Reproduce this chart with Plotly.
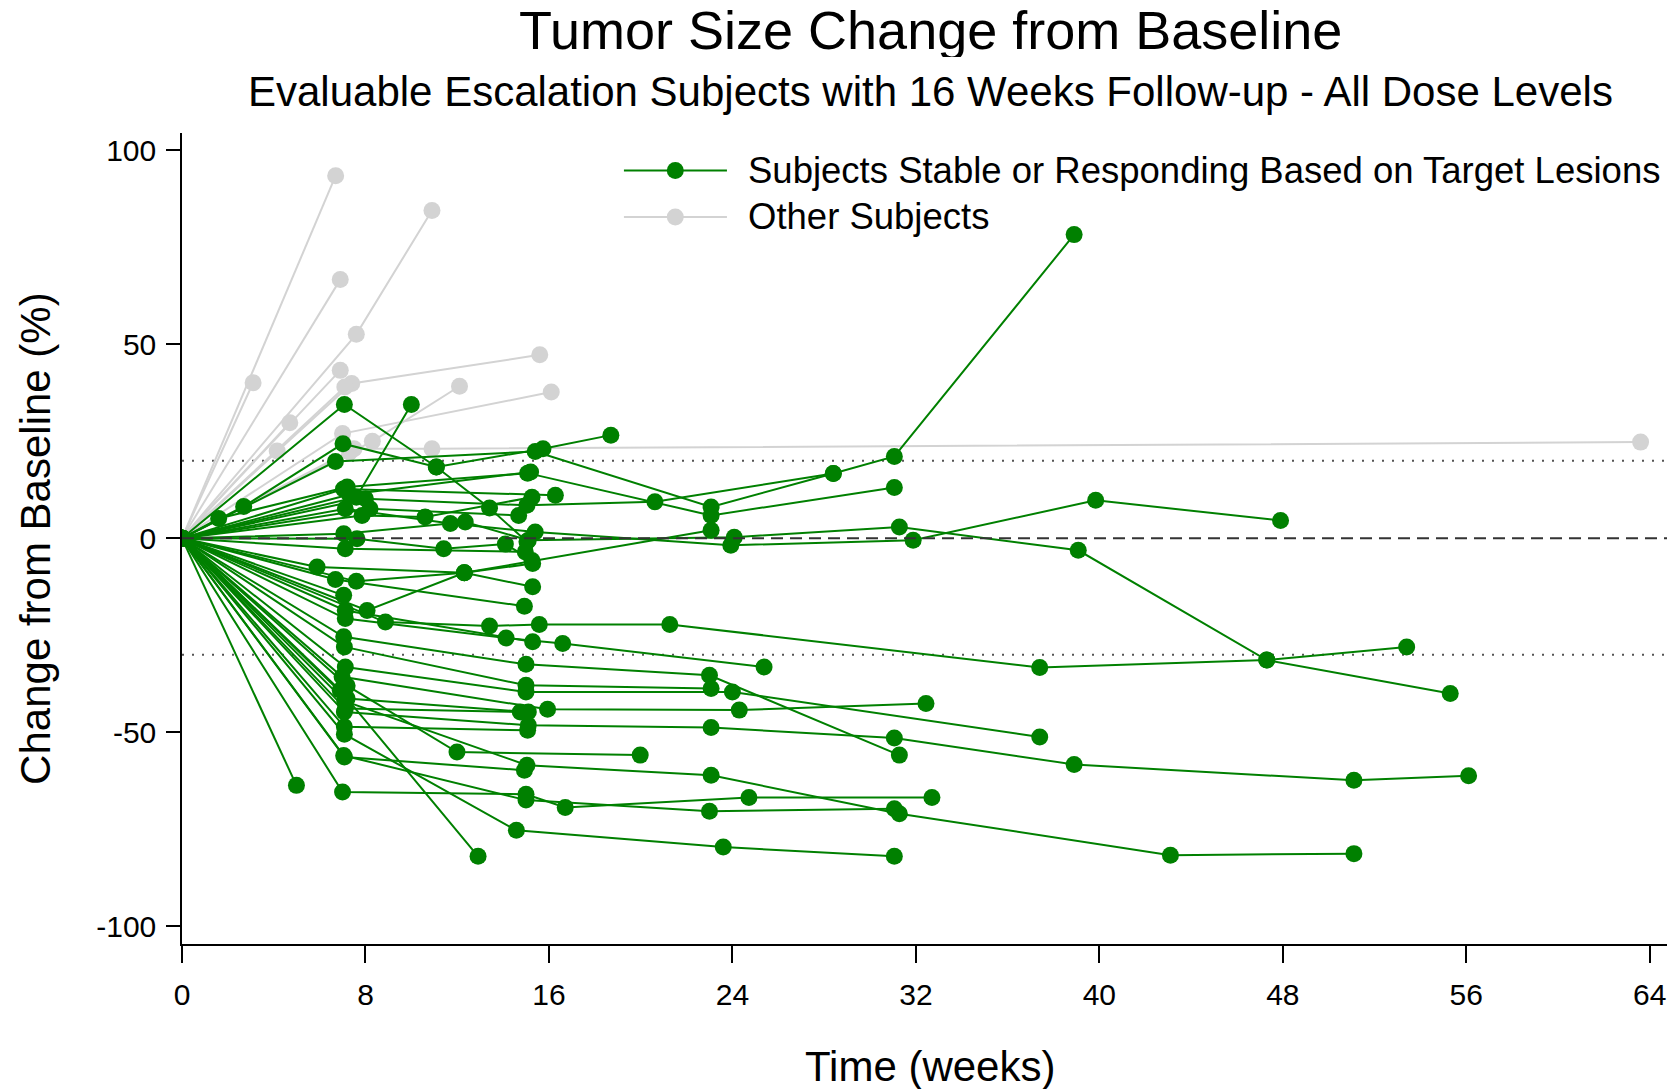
import plotly.graph_objects as go

# ---------------- data ----------------
gray_weeks = [
    [0, 3.1], [0, 6.7], [0, 6.9], [0, 7.6, 10.9], [0, 4.7], [0, 6.9],
    [0, 7.4, 15.6], [0, 7.1], [0, 8.3, 12.1], [0, 7.0, 16.1],
    [0, 7.5, 10.9, 63.6], [0, 4.15], [0, 7.3],
]
gray_values = [
    [0, 40.1], [0, 93.5], [0, 66.7], [0, 52.6, 84.5], [0, 29.8], [0, 43.3],
    [0, 39.9, 47.3], [0, 39.0], [0, 25.0, 39.2], [0, 27.0, 37.7],
    [0, 23.1, 23.1, 24.8], [0, 22.5], [0, 22.2],
]

green_weeks = [
    [0, 7.08, 11.09, 13.41, 15.04],
    [0, 2.69, 7.02, 11.09, 15.74, 18.7],
    [0, 6.69, 15.4, 23.07, 28.4],
    [0, 1.6, 7.2, 15.07, 23.07, 31.06],
    [0, 7.6, 10.0],
    [0, 8.0, 15.04, 20.62, 28.4, 31.06, 38.9],
    [0, 7.04, 16.28],
    [0, 8.2, 14.68],
    [0, 7.85, 10.6, 15.26],
    [0, 7.12, 11.7, 15.4, 23.93, 31.88, 39.84, 47.9],
    [0, 7.05, 12.35, 15.1, 24.08, 31.28, 39.08, 47.3, 55.3],
    [0, 7.63, 11.41, 14.1, 15.26],
    [0, 7.12, 14.97],
    [0, 5.89, 12.31, 15.29],
    [0, 7.6, 12.31, 15.29],
    [0, 8.07, 12.31, 23.07],
    [0, 6.69, 14.93],
    [0, 8.87, 13.41, 15.58, 21.27, 37.4, 47.3, 53.4],
    [0, 7.12, 14.13, 16.6, 25.38],
    [0, 7.12, 15.29],
    [0, 7.05, 15.0, 23.0, 31.28],
    [0, 7.08, 15.0, 23.07],
    [0, 7.12, 15.0, 24.0, 37.4],
    [0, 6.98, 15.94, 24.3, 32.44],
    [0, 6.9, 12.91],
    [0, 7.2, 15.1],
    [0, 7.12, 14.75],
    [0, 7.08, 15.1, 23.07, 31.06, 38.9, 51.1, 56.1],
    [0, 7.08, 15.07],
    [0, 7.08, 14.58, 23.6, 31.06],
    [0, 7.08, 14.93],
    [0, 7.2, 11.99, 19.98],
    [0, 7.0, 15.0, 16.71, 24.72, 32.7],
    [0, 4.99],
    [0, 7.1, 15.04, 23.07, 31.28, 43.1, 51.1],
    [0, 7.05, 15.0, 23.0, 31.06],
    [0, 7.05],
    [0, 7.3, 15.2],
]
green_values = [
    [0, 34.5, 18.4, 7.8, -0.9],
    [0, 8.2, 24.4, 18.4, 23.1, 26.6],
    [0, 19.8, 22.4, 8.1, 16.7],
    [0, 5.1, 13.2, 16.8, 5.9, 13.1],
    [0, 10.6, 34.5],
    [0, 10.2, 8.5, 9.4, 16.7, 21.1, 78.3],
    [0, 12.7, 11.1],
    [0, 7.6, 5.9],
    [0, 5.9, 5.5, 10.6],
    [0, 7.6, 3.8, 1.6, -1.8, -0.5, 9.8, 4.6],
    [0, 1.2, 4.2, -0.5, 0.3, 2.9, -3.1, -31.4, -40.0],
    [0, -0.1, -2.7, -1.5, -5.7],
    [0, -2.7, -3.5],
    [0, -7.4, -8.9, -6.5],
    [0, -11.1, -8.9, -12.5],
    [0, -18.6, -8.9, 2.1],
    [0, -10.6, -17.5],
    [0, -21.6, -22.6, -22.2, -22.2, -33.3, -31.4, -28.0],
    [0, -20.7, -25.7, -27.1, -33.2],
    [0, -18.6, -26.7],
    [0, -25.4, -32.5, -35.3, -55.9],
    [0, -28.0, -37.9, -38.7],
    [0, -33.2, -39.6, -39.6, -51.2],
    [0, -35.7, -44.1, -44.3, -42.6],
    [0, -39.2, -82.0],
    [0, -41.3, -44.8],
    [0, -43.9, -44.8],
    [0, -44.8, -48.2, -48.8, -51.5, -58.3, -62.4, -61.2],
    [0, -48.6, -49.5],
    [0, -50.5, -75.3, -79.6, -82.0],
    [0, -56.4, -59.8],
    [0, -38.0, -55.1, -55.9],
    [0, -65.4, -66.0, -69.4, -66.8, -66.8],
    [0, -63.7],
    [0, -42.0, -58.5, -61.1, -71.0, -81.7, -81.3],
    [0, -56.0, -67.5, -70.4, -69.7],
    [0, -14.7],
    [0, 11.3, 17.1],
]

x_ticks = [0, 8, 16, 24, 32, 40, 48, 56, 64]
y_ticks = [-100, -50, 0, 50, 100]
ref_dashed = [0]
ref_dotted = [20, -30]

legend_labels = ["Subjects Stable or Responding Based on Target Lesions", "Other Subjects"]

GREEN = "#008000"
GRAY = "#D3D3D3"
FONT = "Liberation Sans, Arial, Helvetica, sans-serif"


def flatten(ws, vs):
    xs, ys = [], []
    for w, v in zip(ws, vs):
        xs += list(w) + [None]
        ys += list(v) + [None]
    return xs, ys


fig = go.Figure()
for ws, vs, color, name in [(gray_weeks, gray_values, GRAY, legend_labels[1]),
                            (green_weeks, green_values, GREEN, legend_labels[0])]:
    xs, ys = flatten(ws, vs)
    fig.add_trace(go.Scatter(
        x=xs, y=ys, mode="lines+markers", name=name,
        line=dict(color=color, width=2),
        marker=dict(color=color, size=17, line=dict(width=0)),
        connectgaps=False, showlegend=False, hoverinfo="skip",
    ))

shapes = []
for yv in ref_dashed:
    shapes.append(dict(type="line", xref="paper", x0=0, x1=1, yref="y", y0=yv, y1=yv,
                       line=dict(color="#333333", width=2, dash="12px,7px"), layer="above"))
for yv in ref_dotted:
    shapes.append(dict(type="line", xref="paper", x0=0, x1=1, yref="y", y0=yv, y1=yv,
                       line=dict(color="#555555", width=2, dash="2px,8px"), layer="below"))

# custom legend (long line symbols as in the reference)
leg_x0, leg_x1, leg_xm, leg_tx = 0.296, 0.365, 0.3304, 0.3779
leg_rows = [0.9538, 0.8965]
annotations = []
for row_y, color, label in zip(leg_rows, [GREEN, GRAY], legend_labels):
    shapes.append(dict(type="line", xref="paper", yref="paper", x0=leg_x0, x1=leg_x1,
                       y0=row_y, y1=row_y, line=dict(color=color, width=2)))
    shapes.append(dict(type="circle", xref="paper", yref="paper", xsizemode="pixel",
                       ysizemode="pixel", xanchor=leg_xm, yanchor=row_y,
                       x0=-8.5, x1=8.5, y0=-8.5, y1=8.5, fillcolor=color, line=dict(width=0)))
    annotations.append(dict(text=label, xref="paper", yref="paper", x=leg_tx, y=row_y,
                            xanchor="left", yanchor="middle", showarrow=False,
                            font=dict(size=36.5, color="black")))

annotations += [
    dict(text="Tumor Size Change from Baseline", xref="paper", yref="paper", x=0.5015, y=1.127,
         xanchor="center", yanchor="middle", showarrow=False, height=54, borderpad=0,
         font=dict(size=54, color="black")),
    dict(text="Evaluable Escalation Subjects with 16 Weeks Follow-up - All Dose Levels",
         xref="paper", yref="paper", x=0.5015, y=1.0512, xanchor="center", yanchor="middle",
         showarrow=False, font=dict(size=42, color="black")),
    dict(text="Time (weeks)", xref="paper", yref="paper", x=0.501, y=-0.1506,
         xanchor="center", yanchor="middle", showarrow=False, font=dict(size=42, color="black")),
    dict(text="Change from Baseline (%)", xref="paper", yref="paper", x=-0.0982, y=0.5,
         xanchor="center", yanchor="middle", textangle=-90, showarrow=False,
         font=dict(size=42, color="black")),
]

# the page body adds an 8 px offset; size the figure so it fills the window exactly
fig.update_layout(
    width=1667, height=1081,
    margin=dict(l=174, r=0, t=125, b=145, autoexpand=False),
    plot_bgcolor="white", paper_bgcolor="white",
    font=dict(family=FONT, color="black"),
    showlegend=False, shapes=shapes, annotations=annotations,
)
fig.update_xaxes(range=[0, 65.1], tickvals=x_ticks, ticktext=[str(t) for t in x_ticks],
                 ticks="outside", ticklen=17, tickwidth=1.5, tickcolor="black",
                 showline=True, linecolor="black", linewidth=2, showgrid=False,
                 zeroline=False, tickfont=dict(size=30, color="black"), ticklabelstandoff=6,
                 automargin=False)
fig.update_yaxes(range=[-104.6, 104.5], tickvals=y_ticks, ticktext=[str(t) for t in y_ticks],
                 ticks="outside", ticklen=14, tickwidth=1.5, tickcolor="black",
                 showline=True, linecolor="black", linewidth=1.5, showgrid=False,
                 zeroline=False, tickfont=dict(size=30, color="black"), ticklabelstandoff=4,
                 automargin=False)

fig.write_html("out.html")
